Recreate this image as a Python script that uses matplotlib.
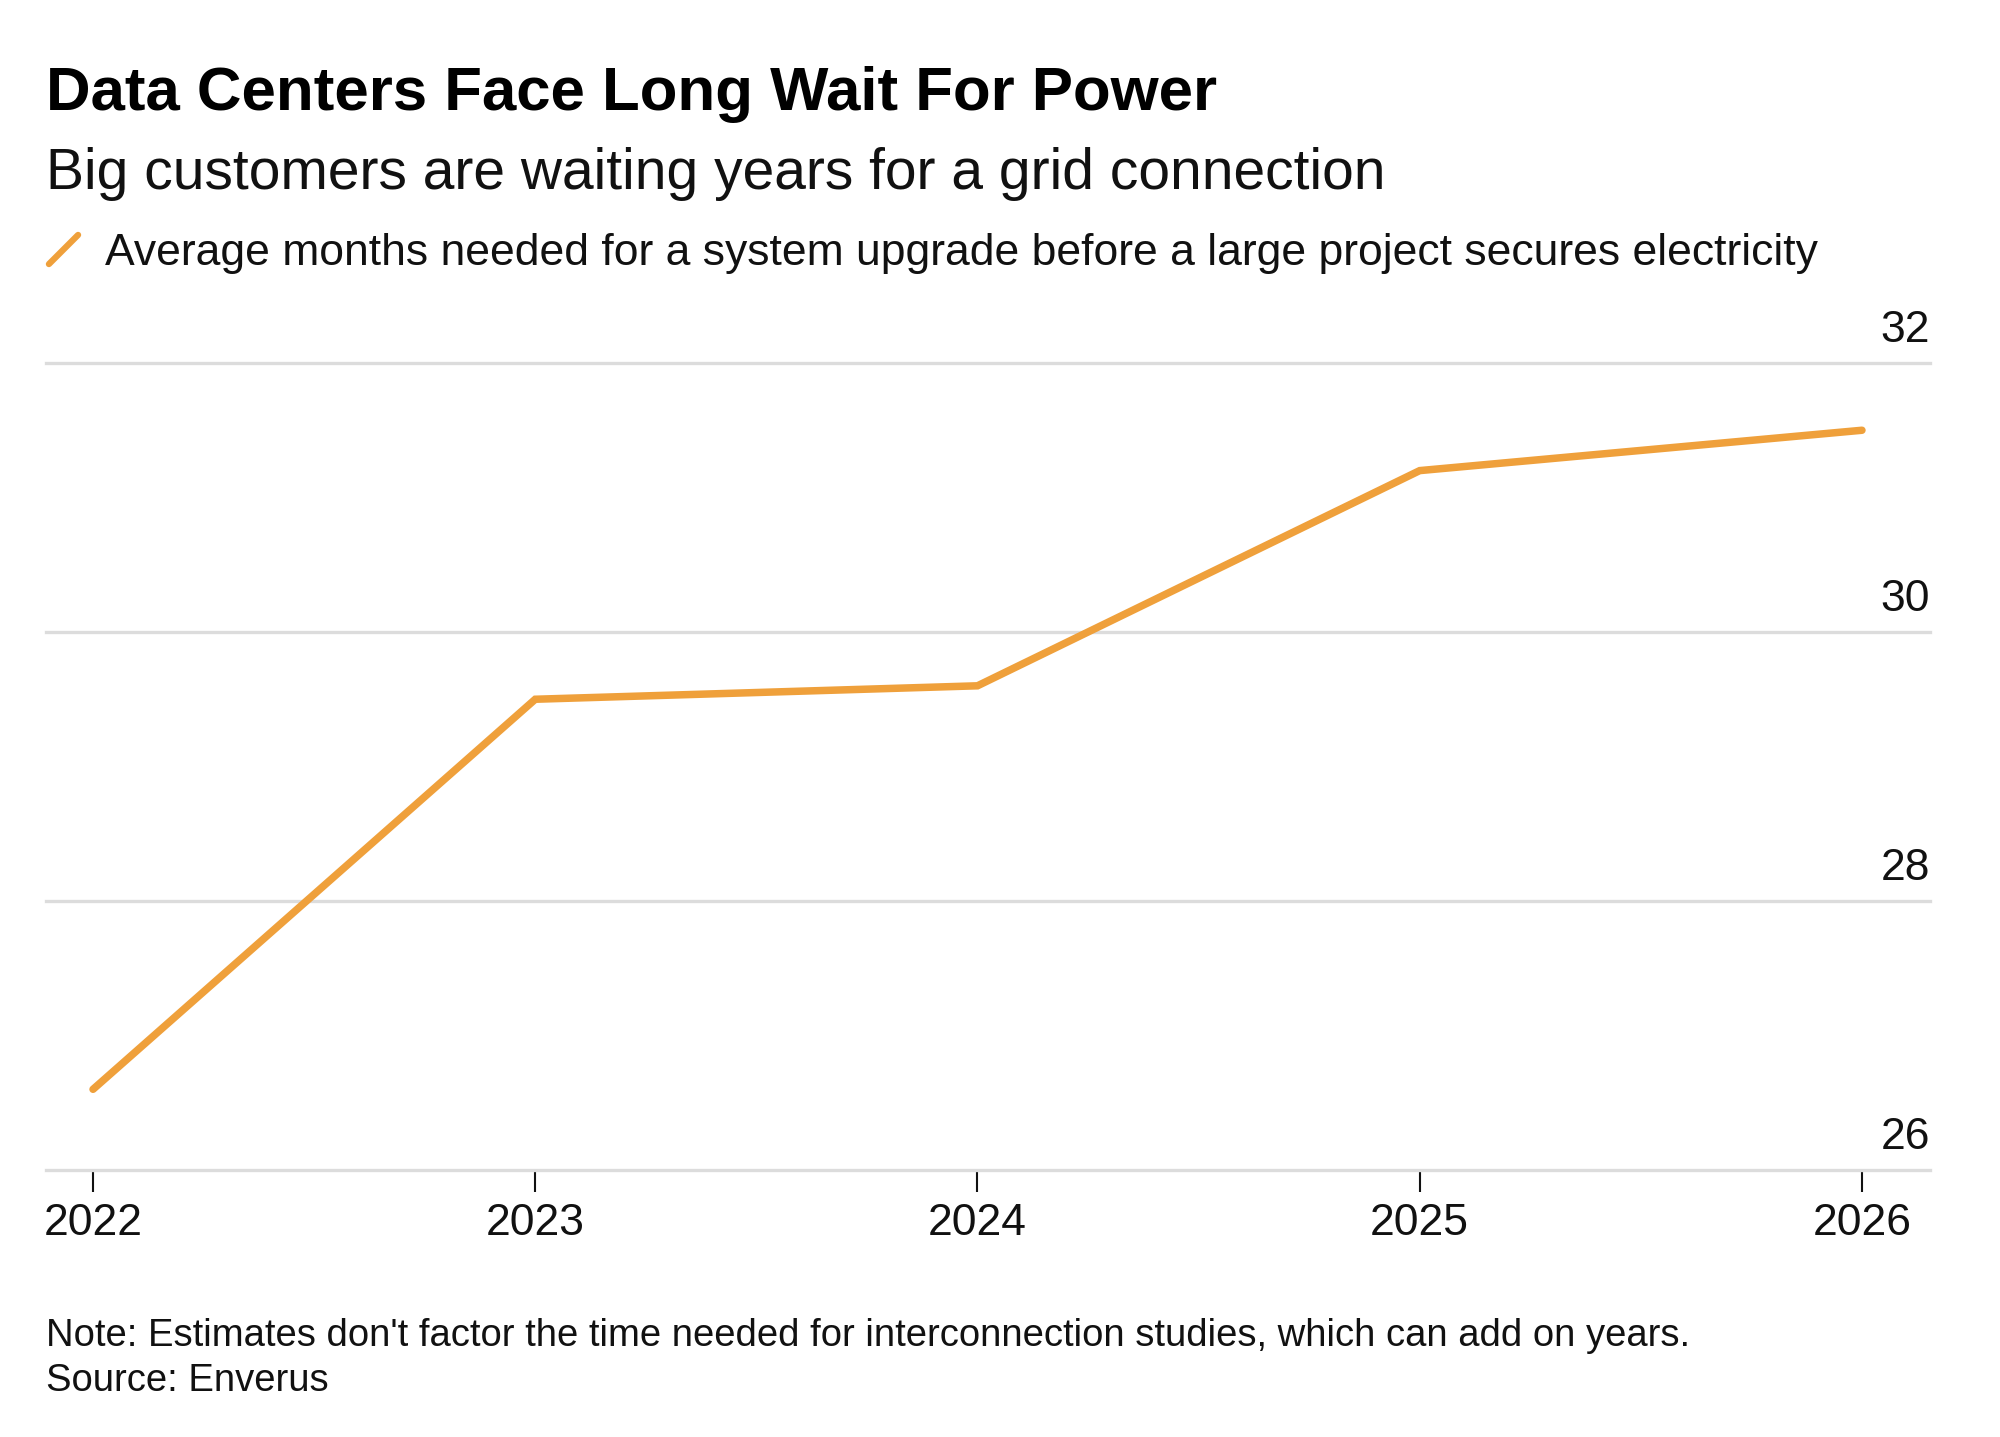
import matplotlib
matplotlib.use("Agg")
import matplotlib.pyplot as plt
from matplotlib.lines import Line2D
from matplotlib.path import Path
from matplotlib.markers import MarkerStyle
from matplotlib.transforms import ScaledTranslation

# data
years = [2022, 2023, 2024, 2025, 2026]
months = [26.6, 29.5, 29.6, 31.2, 31.5]
y_ticks = [26, 28, 30, 32]
x_tick_labels = ["2022", "2023", "2024", "2025", "2026"]

title = "Data Centers Face Long Wait For Power"
subtitle = "Big customers are waiting years for a grid connection"
series_label = "Average months needed for a system upgrade before a large project secures electricity"
note = "Note: Estimates don't factor the time needed for interconnection studies, which can add on years."
source = "Source: Enverus"

ORANGE = "#EFA03B"
GRID = "#DCDCDC"
TEXT = "#111111"

plt.rcParams["font.family"] = ["Liberation Sans", "DejaVu Sans"]

fig = plt.figure(figsize=(20, 14.37), dpi=100)
W, H = 2000, 1437

# axes placed in pixel terms
left, right, top, bottom = 46, 1930, 363, 1170
ax = fig.add_axes([left / W, 1 - bottom / H, (right - left) / W, (bottom - top) / H])

ax.plot(years, months, color=ORANGE, lw=5.4, solid_capstyle="round",
        solid_joinstyle="miter", clip_on=False, zorder=3)

ax.set_xlim(2022 - 47 / 442, 2026 + 68 / 442)
ax.set_ylim(26, 32)

for s in ax.spines.values():
    s.set_visible(False)

ax.set_yticks(y_ticks)
ax.set_yticklabels([])
ax.tick_params(axis="y", length=0)
ax.grid(axis="y", color=GRID, lw=2.4)
for gl in ax.get_ygridlines():
    gl.set_clip_on(False)
ax.set_axisbelow(True)

ax.set_xticks(years)
ax.set_xticklabels(x_tick_labels)
ax.tick_params(axis="x", length=16, width=1.5, color=TEXT, pad=8,
               labelsize=32, labelcolor=TEXT)

# y labels sit right-aligned above each grid line
offset = ScaledTranslation(0, 0.21, fig.dpi_scale_trans)
for v in y_ticks:
    ax.text(1.0, v, str(v), transform=ax.get_yaxis_transform() + offset,
            ha="right", va="baseline", fontsize=32, color=TEXT)

# headline block
fig.text(left / W, 1 - 110 / H, title, fontsize=44.5, fontweight="bold",
         color="black", ha="left", va="baseline")
fig.text(left / W, 1 - 189 / H, subtitle, fontsize=41, color=TEXT,
         ha="left", va="baseline")

slash = MarkerStyle(Path([(-0.5, -0.5), (0.5, 0.5)]), capstyle="round")
handle = Line2D([], [], color=ORANGE, marker=slash, linestyle="none",
                markersize=21, markeredgewidth=4.5)
fig.legend(handles=[handle], labels=[series_label], loc="center left",
           bbox_to_anchor=(41 / W, 1 - 253 / H), frameon=False,
           fontsize=32, labelcolor=TEXT, handlelength=1.0, handletextpad=0.43,
           borderpad=0, borderaxespad=0)

fig.text(left / W, 1 - 1346 / H, note, fontsize=27.5, color=TEXT,
         ha="left", va="baseline")
fig.text(left / W, 1 - 1391 / H, source, fontsize=27.5, color=TEXT,
         ha="left", va="baseline")

fig.savefig("out.png", dpi=100, facecolor="white")
